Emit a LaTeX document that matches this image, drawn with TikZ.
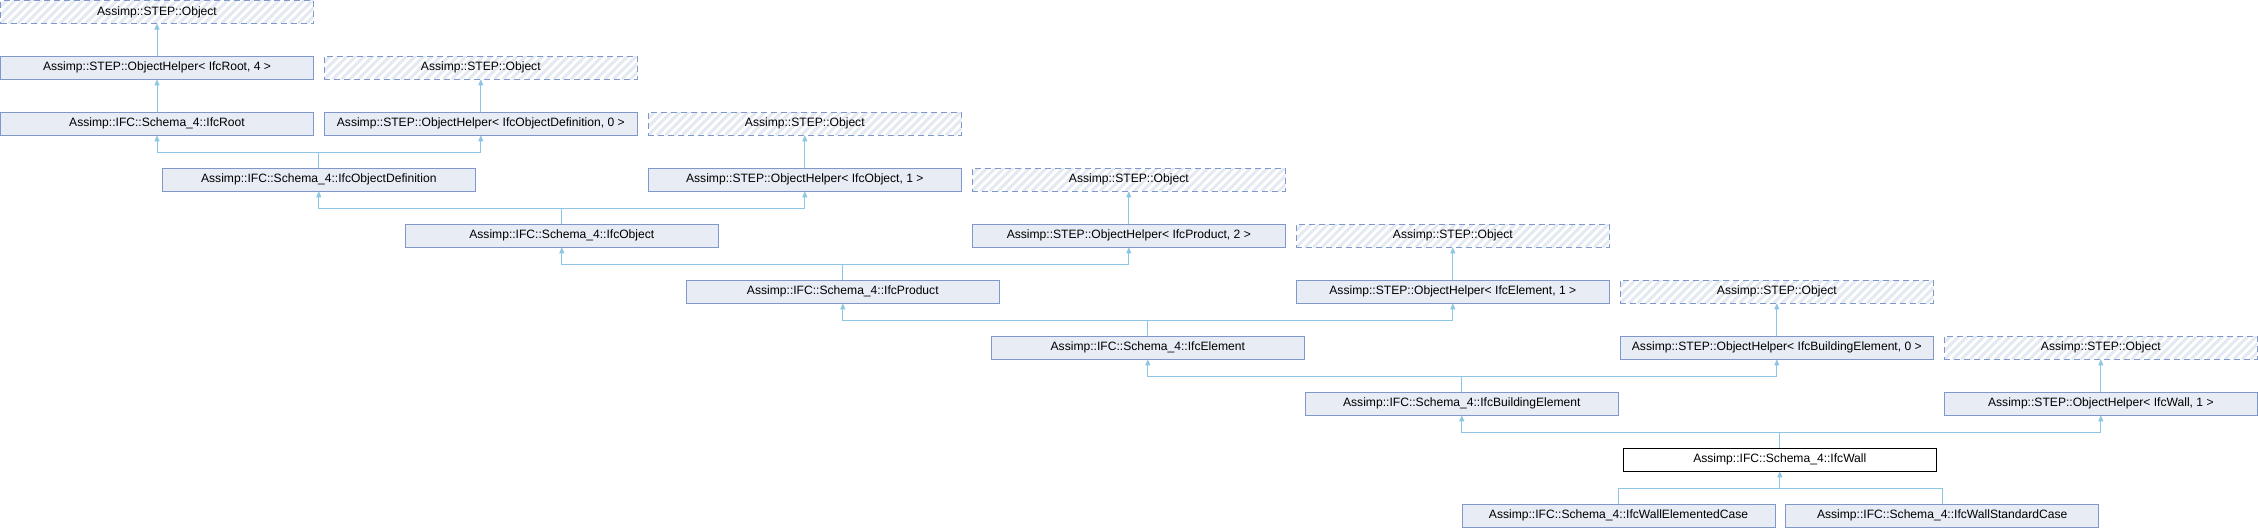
\documentclass[tikz,border=0pt]{standalone}
\usepackage{fontspec}
\setmainfont{Liberation Sans}
\usetikzlibrary{arrows.meta}
\definecolor{boxfill}{HTML}{E8ECF5}
\definecolor{boxline}{HTML}{7F97C9}
\definecolor{connline}{HTML}{8DC6E5}
\definecolor{hatchcol}{HTML}{E4E9F2}
\tikzset{
  x=1pt, y=1pt,
  base/.style={anchor=north west, minimum width=313pt, minimum height=23pt,
    inner sep=0pt, outer sep=0pt, line width=1pt,
    font=\fontsize{12.1}{14}\selectfont, text=black},
  cls/.style={base, draw=boxline, fill=boxfill},
  cur/.style={base, draw=black, fill=white},
  ext/.style={base, draw=boxline, fill=white, dash pattern=on 6pt off 4pt,
    path picture={\foreach \k in {-4,...,40}
      \draw[hatchline] ([xshift=\k*8.5pt]path picture bounding box.south west) -- ++(30pt,30pt);}},
  hatchline/.style={solid, draw=hatchcol, line width=3pt},
  wire/.style={draw=connline, line width=1pt},
  conn/.style={wire, -{Triangle[width=5pt,length=6pt]}},
}
\begin{document}
\begin{tikzpicture}
\useasboundingbox (0,0) rectangle (2258,-528);
% row 0
\node[ext] (obj0) at (0.5,-0.5) {Assimp::STEP::Object};
% row 1
\node[cls] (ohroot) at (0.5,-56.3) {Assimp::STEP::ObjectHelper< IfcRoot, 4 >};
\node[ext] (obj1) at (324.3,-56.3) {Assimp::STEP::Object};
% row 2
\node[cls] (root) at (0.5,-112.3) {Assimp::IFC::Schema\_4::IfcRoot};
\node[cls] (ohobjdef) at (324.3,-112.3) {Assimp::STEP::ObjectHelper< IfcObjectDefinition, 0 >};
\node[ext] (obj2) at (648.3,-112.3) {Assimp::STEP::Object};
% row 3
\node[cls] (objdef) at (162.3,-168.3) {Assimp::IFC::Schema\_4::IfcObjectDefinition};
\node[cls] (ohobject) at (648.3,-168.3) {Assimp::STEP::ObjectHelper< IfcObject, 1 >};
\node[ext] (obj3) at (972.3,-168.3) {Assimp::STEP::Object};
% row 4
\node[cls] (object) at (405.3,-224.3) {Assimp::IFC::Schema\_4::IfcObject};
\node[cls] (ohproduct) at (972.3,-224.3) {Assimp::STEP::ObjectHelper< IfcProduct, 2 >};
\node[ext] (obj4) at (1296.3,-224.3) {Assimp::STEP::Object};
% row 5
\node[cls] (product) at (686.3,-280.3) {Assimp::IFC::Schema\_4::IfcProduct};
\node[cls] (ohelement) at (1296.3,-280.3) {Assimp::STEP::ObjectHelper< IfcElement, 1 >};
\node[ext] (obj5) at (1620.3,-280.3) {Assimp::STEP::Object};
% row 6
\node[cls] (element) at (991.3,-336.3) {Assimp::IFC::Schema\_4::IfcElement};
\node[cls] (ohbuild) at (1620.3,-336.3) {Assimp::STEP::ObjectHelper< IfcBuildingElement, 0 >};
\node[ext] (obj6) at (1944.3,-336.3) {Assimp::STEP::Object};
% row 7
\node[cls] (build) at (1305.3,-392.3) {Assimp::IFC::Schema\_4::IfcBuildingElement};
\node[cls] (ohwall) at (1944.3,-392.3) {Assimp::STEP::ObjectHelper< IfcWall, 1 >};
% row 8
\node[cur] (wall) at (1623.3,-448.3) {Assimp::IFC::Schema\_4::IfcWall};
% row 9
\node[cls] (welem) at (1462,-504.3) {Assimp::IFC::Schema\_4::IfcWallElementedCase};
\node[cls] (wstd) at (1785.7,-504.3) {Assimp::IFC::Schema\_4::IfcWallStandardCase};

% single-parent links
\draw[conn] (ohroot.north) -- (obj0.south);
\draw[conn] (root.north) -- (ohroot.south);
\draw[conn] (ohobjdef.north) -- (obj1.south);
\draw[conn] (ohobject.north) -- (obj2.south);
\draw[conn] (ohproduct.north) -- (obj3.south);
\draw[conn] (ohelement.north) -- (obj4.south);
\draw[conn] (ohbuild.north) -- (obj5.south);
\draw[conn] (ohwall.north) -- (obj6.south);

% two-parent links
\draw[wire] (objdef.north) -- ++(0,16) coordinate (j3);
\draw[conn] (j3) -| (root.south);
\draw[conn] (j3) -| (ohobjdef.south);

\draw[wire] (object.north) -- ++(0,16) coordinate (j4);
\draw[conn] (j4) -| (objdef.south);
\draw[conn] (j4) -| (ohobject.south);

\draw[wire] (product.north) -- ++(0,16) coordinate (j5);
\draw[conn] (j5) -| (object.south);
\draw[conn] (j5) -| (ohproduct.south);

\draw[wire] (element.north) -- ++(0,16) coordinate (j6);
\draw[conn] (j6) -| (product.south);
\draw[conn] (j6) -| (ohelement.south);

\draw[wire] (build.north) -- ++(0,16) coordinate (j7);
\draw[conn] (j7) -| (element.south);
\draw[conn] (j7) -| (ohbuild.south);

\draw[wire] (wall.north) -- ++(0,16) coordinate (j8);
\draw[conn] (j8) -| (build.south);
\draw[conn] (j8) -| (ohwall.south);

% children of IfcWall
\coordinate (j9) at ([yshift=-17pt]wall.south);
\draw[wire] (welem.north) |- (j9) -| (wstd.north);
\draw[conn] (j9) -- (wall.south);
\end{tikzpicture}
\end{document}
